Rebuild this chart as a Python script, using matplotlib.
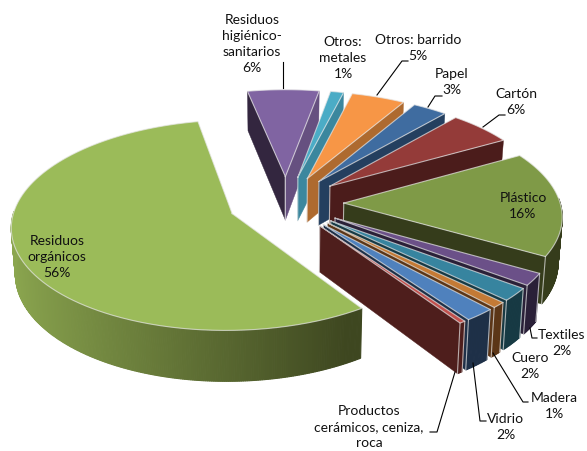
import numpy as np
import matplotlib
matplotlib.use("Agg")
import matplotlib.pyplot as plt
from matplotlib.patches import Polygon
from matplotlib.colors import to_rgb

# DATA (clockwise, starting at the organic slice's far edge)
categories = ["Residuos higiénico-sanitarios", "Otros: metales", "Otros: barrido", "Papel", "Cartón",
              "Plástico", "Textiles", "Cuero", "Madera", "Vidrio",
              "Productos cerámicos, ceniza, roca", "Residuos orgánicos"]
values = [6.0, 1.1, 4.5, 2.9, 5.4, 16.4, 1.9, 2.0, 0.9, 2.0, 0.4, 56]
top_colors = ["#8064A2", "#4BACC6", "#F79646", "#3F6CA0", "#943B39", "#7F9A47",
              "#6B5088", "#37849F", "#C47A35", "#4F81BD", "#C0504D", "#9BBB59"]
start_face = ["#33263F", "#1C4E5C", "#7A4A20", "#1F344E", "#4B1C1B", "#353C1B",
              "#2A2038", "#173A44", "#5C3617", "#1E3048", "#4E1E1C", "#3E4720"]
end_face = ["#665080", "#3B879E", "#AE6A2F", "#243F5F", "#4B1C1B", "#353C1B",
            "#2A2038", "#173A44", "#5C3617", "#1E3048", "#4E1E1C", "#3E4720"]
arc_near = ["#665080", "#3B879E", "#AE6A2F", "#243F5F", "#4B1C1B", "#353C1B",
            "#2A2038", "#173A44", "#5C3617", "#1E3048", "#4E1E1C", "#3E4720"]
arc_side = ["#665080", "#3B879E", "#AE6A2F", "#243F5F", "#4B1C1B", "#353C1B",
            "#2A2038", "#173A44", "#5C3617", "#1E3048", "#4E1E1C", "#8BA64F"]

FIRST_ANGLE = 258.5
R, EXPL, K, CX, CY = 251.0, 67.0, 0.47, 286.0, 203.0
S0_INV, B, THICK, BOTTOM_X = 1.16, 0.0005, 52.0, 0.985


def project(X, Y, bottom=False):
    s = 1.0 / (S0_INV + B * np.asarray(Y, float))
    sx = CX + X * s * (BOTTOM_X if bottom else 1.0)
    sy = CY - K * Y * s + (THICK * s if bottom else 0.0)
    return np.column_stack([np.atleast_1d(sx), np.atleast_1d(sy)])


def world(theta_deg, radius, off):
    t = np.radians(theta_deg)
    return off[0] + radius * np.cos(t), off[1] - radius * np.sin(t)


def area(p):
    x, y = p[:, 0], p[:, 1]
    return 0.5 * np.sum(x * np.roll(y, -1) - np.roll(x, -1) * y)


fig = plt.figure(figsize=(5.87, 4.51), dpi=100)
ax = fig.add_axes([0, 0, 1, 1])
ax.set_xlim(0, 587)
ax.set_ylim(451, 0)
ax.axis("off")

total = sum(values)
sweeps = [v / total * 360 for v in values]
starts = FIRST_ANGLE + np.cumsum([0] + sweeps[:-1])
EDGE = dict(color="#E8E8E8", lw=0.8, alpha=0.7, solid_joinstyle="round")

z = [1.0]


def fill(pts, fc, ec="none", lw=0.3):
    z[0] += 0.01
    ax.add_patch(Polygon(pts, closed=True, fc=fc, ec=ec, lw=lw, zorder=z[0]))


def edge(xs, ys):
    z[0] += 0.01
    ax.plot(xs, ys, zorder=z[0], **EDGE)


slices = []
for i, (st, sw) in enumerate(zip(starts, sweeps)):
    mid = np.radians(st + sw / 2)
    off = (EXPL * np.cos(mid), -EXPL * np.sin(mid))
    slices.append((off[1], i, st, sw, off))
# far slices first
for _, i, st, sw, off in sorted(slices, key=lambda a: -a[0]):
    big = values[i] > 50
    th = np.linspace(st, st + sw, max(4, int(sw * 2)))
    xo, yo = world(th, R, off)
    top_arc = project(xo, yo)
    bot_arc = project(xo, yo, bottom=True)
    apex_t = project(off[0], off[1])
    apex_b = project(off[0], off[1], bottom=True)

    # radial cut faces
    a = np.vstack([apex_t, top_arc[:1], bot_arc[:1], apex_b])
    b = np.vstack([apex_t, top_arc[-1:], bot_arc[-1:], apex_b])
    if area(a) < 0 and not big:
        fill(a, start_face[i], start_face[i])
        edge(a[[0, 3], 0], a[[0, 3], 1])
    if area(b) > 0 and not big:
        fill(b, end_face[i], end_face[i])
        edge(b[[0, 3], 0], b[[0, 3], 1])

    # outer wall, split along the arc so it can carry a gradient
    c0, c1 = np.array(to_rgb(arc_near[i])), np.array(to_rgb(arc_side[i]))
    for j in range(len(th) - 1):
        tm = np.radians(th[j])
        nx, ny = np.cos(tm), np.sin(tm)
        if ny < -0.05 and nx > -0.8 and not big:
            continue
        if big and ny < -0.02:
            continue
        f = np.clip((0.5 - nx) / 1.48, 0, 1)
        col = c0 + (c1 - c0) * f
        q = np.vstack([top_arc[j:j + 2], bot_arc[j:j + 2][::-1]])
        fill(q, col, col, 0.8)

    # top face
    poly = np.vstack([apex_t, top_arc])
    fill(poly, top_colors[i])
    outline = np.vstack([poly, apex_t])
    edge(outline[:, 0], outline[:, 1])
    for end in (0, -1):
        if not big and np.sin(np.radians(th[end])) > 0:
            edge([top_arc[end, 0], bot_arc[end, 0]], [top_arc[end, 1], bot_arc[end, 1]])

# leader lines
leaders = [[(283, 62), (283, 88)], [(377, 95), (402, 61), (408, 61)], [(428, 107), (435, 96), (442, 96)],
           [(483, 127), (499, 115), (505, 115)], [(530, 328), (532, 338), (537, 338)],
           [(493, 353), (523, 402), (528, 402)], [(473, 363), (480, 421), (486, 421)],
           [(455, 372), (437, 432), (430, 432)]]
for ln in leaders:
    xs, ys = zip(*ln)
    ax.plot(xs, ys, color="black", lw=0.8, zorder=50)

labels = [("Residuos\nhigiénico-\nsanitarios\n6%", 252, 44), ("Otros:\nmetales\n1%", 343, 58),
          ("Otros: barrido\n5%", 418, 48), ("Papel\n3%", 452, 82), ("Cartón\n6%", 516, 102),
          ("Plástico\n16%", 523, 206), ("Textiles\n2%", 562, 343), ("Cuero\n2%", 530, 366),
          ("Madera\n1%", 554, 406), ("Vidrio\n2%", 506, 427),
          ("Productos\ncerámicos, ceniza,\nroca", 369, 427), ("Residuos\norgánicos\n56%", 57, 257)]
for txt, x, y in labels:
    ax.text(x, y, txt, ha="center", va="center", fontsize=10, family="Lato", color="#111111",
            linespacing=1.4, zorder=60)

fig.savefig("out.png", dpi=100)
